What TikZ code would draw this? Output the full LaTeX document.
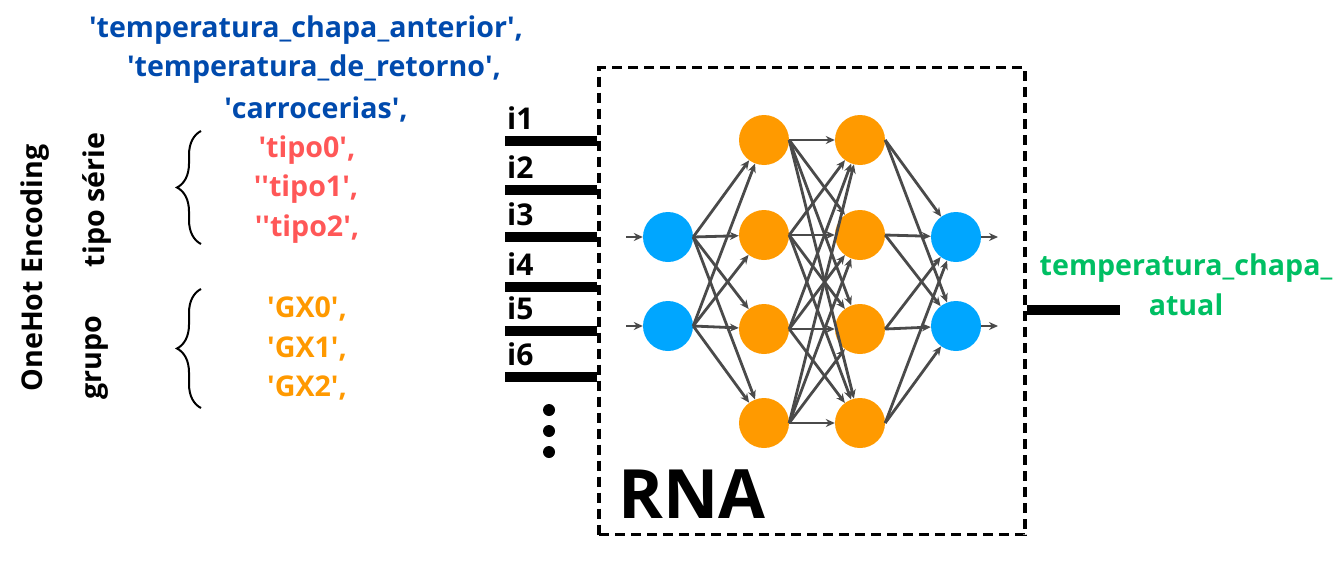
\documentclass[tikz,border=0pt]{standalone}
\usepackage{fontspec}
\setmainfont{Open Sans}[UprightFont=* Bold]
\usetikzlibrary{arrows.meta,decorations.pathreplacing}
\definecolor{tblue}{HTML}{004AAD}
\definecolor{tred}{HTML}{FF5757}
\definecolor{torange}{HTML}{FF9900}
\definecolor{cblue}{HTML}{00A6FF}
\definecolor{corange}{HTML}{FF9A00}
\definecolor{tgreen}{HTML}{00BF63}
\definecolor{egray}{HTML}{4A4A4A}
\newcommand\sq{\textquotesingle}
\begin{document}
\begin{tikzpicture}[x=1pt,y=-1pt,
  txt/.style={font=\fontsize{28.6}{28.6}\selectfont, inner sep=0pt, anchor=center},
  lbl/.style={font=\fontsize{30}{30}\selectfont, inner sep=0pt},
  bar/.style={line width=10pt, black},
  neuronB/.style={circle, fill=cblue, minimum size=50pt, inner sep=0pt},
  neuronO/.style={circle, fill=corange, minimum size=50pt, inner sep=0pt},
  edge/.style={draw=egray, line width=2.8pt, -{Stealth[length=9pt,width=8pt]}},
  bracestyle/.style={decorate, decoration={brace, amplitude=24pt}, line width=2pt}]
\useasboundingbox (0,0) rectangle (1341,562);
% left texts
\node[txt, text=tblue] (t1) at (306,30) {\sq temperatura\_chapa\_anterior\sq,};
\node[txt, text=tblue] (t2) at (314,69) {\sq temperatura\_de\_retorno\sq,};
\node[txt, text=tblue] (t3) at (316,109) {\sq carrocerias\sq,};
\node[txt, text=tred] (p0) at (307,150) {\sq tipo0\sq,};
\node[txt, text=tred] (p1) at (306,189) {\sq\sq tipo1\sq,};
\node[txt, text=tred] (p2) at (307,229) {\sq\sq tipo2\sq,};
\node[txt, text=torange] (g0) at (307,309) {\sq GX0\sq,};
\node[txt, text=torange] (g1) at (307,349) {\sq GX1\sq,};
\node[txt, text=torange] (g2) at (307,388) {\sq GX2\sq,};
\draw[bracestyle] (201,244) -- (201,131);
\draw[bracestyle] (201,408) -- (201,289);
\node[txt, rotate=90] (ts) at (97,200) {tipo série};
\node[txt, rotate=90] (gr) at (97,358) {grupo};
\node[txt, rotate=90] (oh) at (35,268) {OneHot Encoding};
% input bars
\foreach \k/\y in {1/141,2/190,3/237,4/287,5/331,6/377}{
  \coordinate (bl\k) at (505,\y);
  \coordinate (br\k) at (597,\y);
  \draw[bar] (bl\k) -- (br\k);
  \node[lbl, anchor=base west] (il\k) at (507,\y-12) {i\k};
}
\foreach \k/\y in {1/410,2/431,3/452}{
  \fill (549,\y) circle (6pt);
}
% box
\node[draw, line width=3.6pt, dash pattern=on 10pt off 6pt, minimum width=426pt, minimum height=467pt, inner sep=0pt] (box) at (812,301) {};
\node[font=\fontsize{68}{68}\selectfont, inner sep=0pt, anchor=base west] (rna) at (618,518) {RNA};
% network
\node[neuronB] (x1) at (668,237) {};
\node[neuronB] (x2) at (668,326) {};
\foreach \k/\y in {1/140,2/235,3/329,4/423}{
  \node[neuronO] (a\k) at (764,\y) {};
  \node[neuronO] (b\k) at (860,\y) {};
}
\node[neuronB] (o1) at (956,237) {};
\node[neuronB] (o2) at (956,326) {};
\coordinate (in1) at (626,237);
\coordinate (in2) at (626,326);
\coordinate (out1) at (998,237);
\coordinate (out2) at (998,326);
\draw[edge] (in1) -- (x1.west);
\draw[edge] (in2) -- (x2.west);
\draw[edge] (o1.east) -- (out1);
\draw[edge] (o2.east) -- (out2);
\foreach \i in {1,2}{\foreach \j in {1,...,4}{\draw[edge] (x\i.east) -- (a\j);}}
\foreach \i in {1,...,4}{\foreach \j in {1,...,4}{\draw[edge] (a\i.east) -- (b\j);}}
\foreach \i in {1,...,4}{\foreach \j in {1,2}{\draw[edge] (b\i.east) -- (o\j);}}
% output
\coordinate (ol) at (1027,310);
\coordinate (orr) at (1120,310);
\draw[bar] (ol) -- (orr);
\node[txt, text=tgreen] (ot1) at (1186,268) {temperatura\_chapa\_};
\node[txt, text=tgreen] (ot2) at (1186,305) {atual};
\end{tikzpicture}
\end{document}
